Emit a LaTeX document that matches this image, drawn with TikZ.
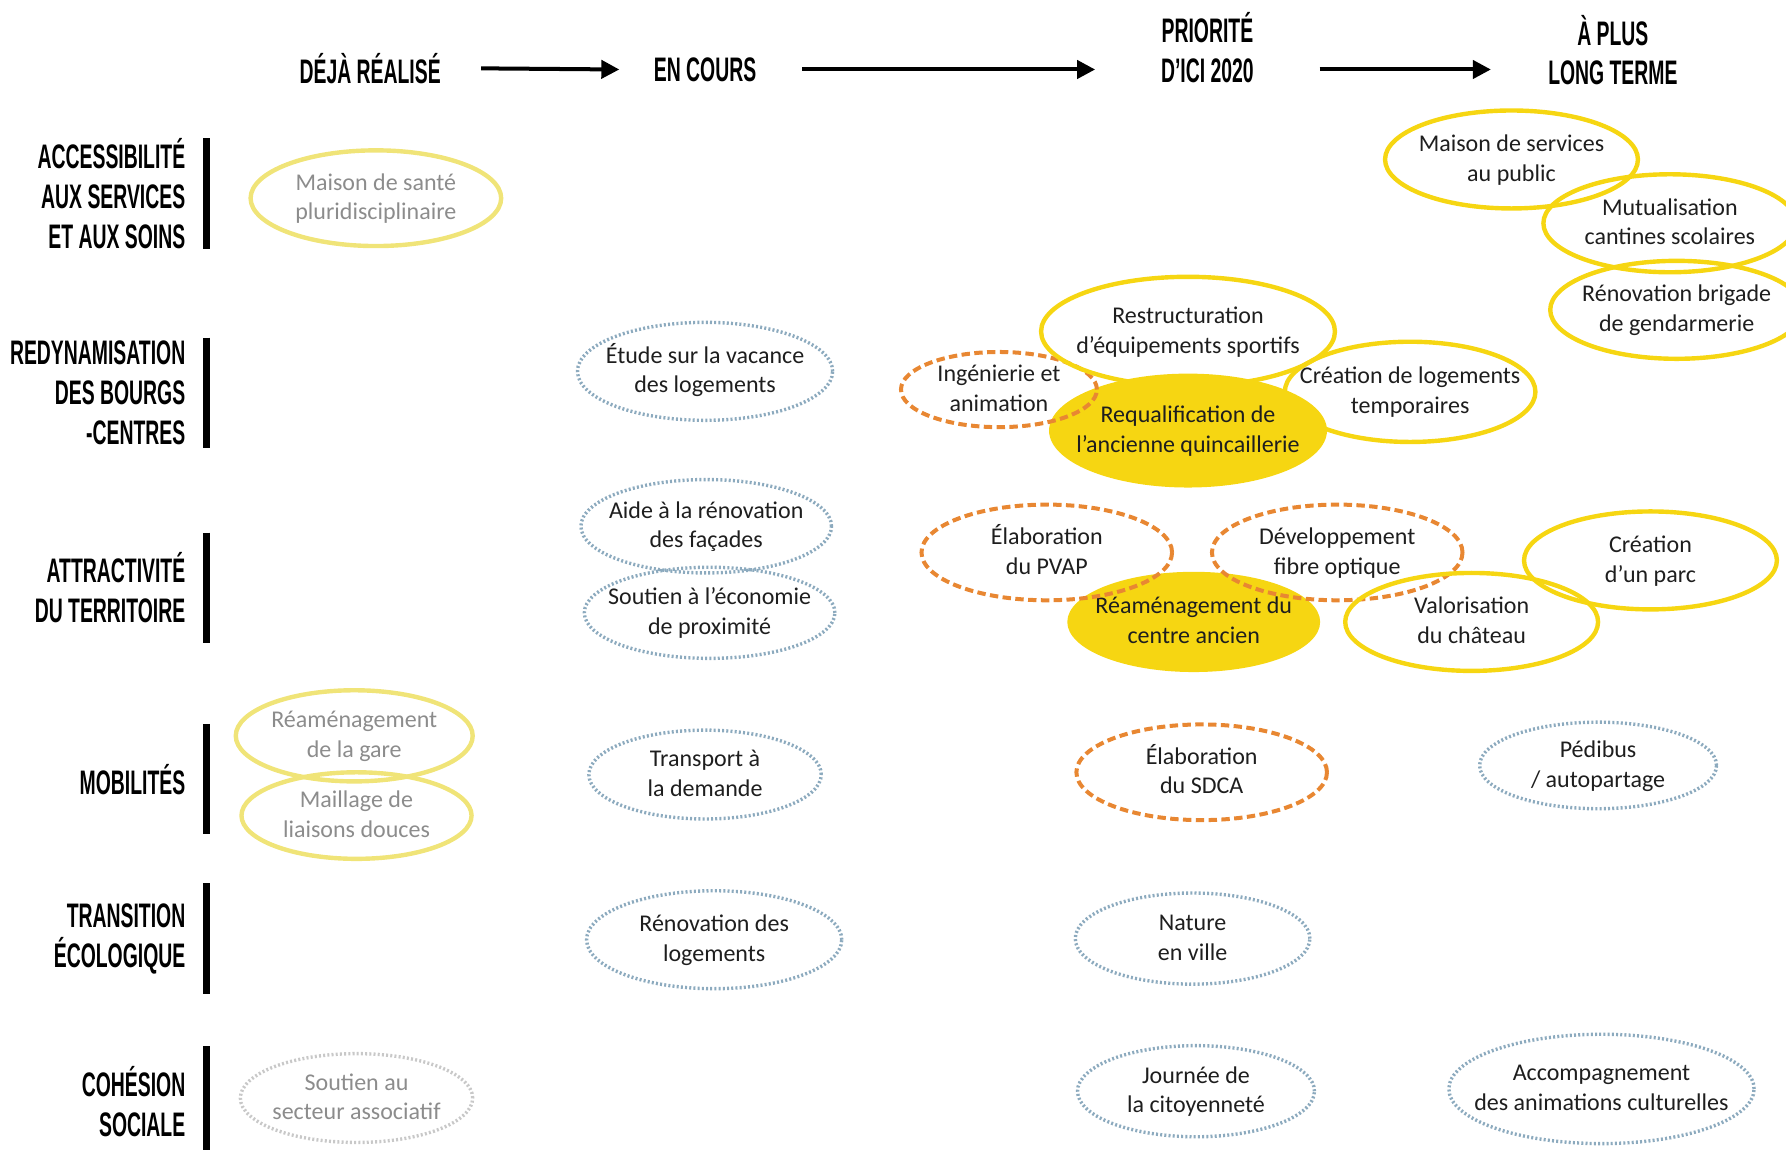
\documentclass[tikz,border=0pt]{standalone}
\usepackage{fontspec}
\setmainfont{Carlito}
\newfontfamily\headfont[FakeStretch=0.57]{Liberation Sans}
\usetikzlibrary{shapes.geometric,arrows.meta}

\definecolor{sun}{RGB}{246,214,18}
\definecolor{paleyellow}{RGB}{240,228,120}
\definecolor{studyorange}{RGB}{232,135,50}
\definecolor{dotblue}{RGB}{140,170,190}
\definecolor{dotgray}{RGB}{200,200,200}
\definecolor{donetext}{RGB}{140,140,140}
\definecolor{ink}{RGB}{30,30,30}

\newcommand{\inell}[1]{\smash{\makebox[0pt]{\raisebox{-0.6ex}{\begin{tabular}{@{}c@{}}#1\end{tabular}}}}}

\tikzset{
  head/.style={font=\headfont\bfseries\fontsize{17}{19.9}\selectfont, align=center, inner sep=0pt},
  rowlab/.style={head, anchor=east, align=right},
  arr/.style={line width=2pt, -{Triangle[length=9pt,width=9pt]}},
  bar/.style={line width=3.4pt},
  action/.style={ellipse, inner sep=0pt, text=ink, line width=2.2pt,
    font=\fontsize{12}{14.8}\selectfont},
  done/.style={action, draw=paleyellow, text=donetext},
  donegray/.style={action, draw=dotgray, text=donetext, line width=1.7pt, dash pattern=on 1pt off 1.1pt},
  ongoing/.style={action, draw=dotblue, line width=1.7pt, dash pattern=on 1pt off 1.1pt},
  study/.style={action, draw=studyorange, line width=2pt, dash pattern=on 4.2pt off 2.2pt},
  planned/.style={action, draw=sun},
  key/.style={action, fill=sun},
}

\begin{document}
\begin{tikzpicture}[x=0.02cm, y=-0.02cm]
  \useasboundingbox (0,0) rectangle (1568,1009);

  % column heads
  \node [head] (deja) at (325,60) {DÉJÀ RÉALISÉ};
  \node [head] (encours) at (619,61) {EN COURS};
  \node [head] (prio) at (1060,42) {PRIORITÉ\\D’ICI 2020};
  \node [head] (long) at (1416,44) {À PLUS\\LONG TERME};

  \draw [arr] ([xshift=0.7cm]deja.east) -- ([xshift=-0.6cm]encours.west);
  \draw [arr] ([xshift=0.8cm]encours.east) -- ([xshift=-1.15cm]prio.west |- encours.east);
  \draw [arr] ([xshift=1.15cm]prio.east |- encours.east) -- ([xshift=-1cm]long.west |- encours.east);

  % rows
  \foreach \row/\y/\txt in {acces/170/{ACCESSIBILITÉ\\AUX SERVICES\\ET AUX SOINS},
      bourgs/345/{REDYNAMISATION\\DES BOURGS\\-CENTRES},
      attract/516/{ATTRACTIVITÉ\\DU TERRITOIRE},
      mobil/684/{MOBILITÉS},
      transi/824/{TRANSITION\\ÉCOLOGIQUE},
      cohes/967/{COHÉSION\\SOCIALE}} {
    \node [rowlab] (\row) at (163,\y) {\txt};
    \draw [bar] ([xshift=0.36cm,yshift=0.97cm]\row.east) -- ([xshift=0.36cm,yshift=-0.97cm]\row.east);
  }

  % filled ones first, outlines go over them
  \foreach \name/\x/\y/\w/\h/\txt in {quinc/1043/378/244/100/{Requalification de\\l’ancienne quincaillerie},
      centre/1048/546/222/88/{Réaménagement du\\centre ancien}} {
    \node [key, minimum width=\w*0.02cm, minimum height=\h*0.02cm] (\name) at (\x,\y) {\inell{\txt}};
  }

  \foreach \name/\x/\y/\w/\h/\txt in {sante/330/174/220/84/{Maison de santé\\pluridisciplinaire},
      gare/311/646/208/80/{Réaménagement\\de la gare},
      maillage/313/716/202/76/{Maillage de\\liaisons douces}} {
    \node [done, minimum width=\w*0.02cm, minimum height=\h*0.02cm] (\name) at (\x,\y) {\inell{\txt}};
  }
  \node [donegray, minimum width=4.08cm, minimum height=1.56cm] (asso) at (313,964) {\inell{Soutien au\\secteur associatif}};

  \foreach \name/\x/\y/\w/\h/\txt in {vacance/619/326/224/86/{Étude sur la vacance\\des logements},
      facades/620/462/220/82/{Aide à la rénovation\\des façades},
      proxi/623/538/220/80/{Soutien à l’économie\\de proximité},
      tad/619/680/204/78/{Transport à\\la demande},
      renov/627/825/224/86/{Rénovation des\\logements},
      nature/1047/824/206/80/{Nature\\en ville},
      citoyen/1050/958/208/80/{Journée de\\la citoyenneté},
      pedibus/1403/672/208/76/{Pédibus\\/ autopartage},
      culture/1406/956/268/96/{Accompagnement\\des animations culturelles}} {
    \node [ongoing, minimum width=\w*0.02cm, minimum height=\h*0.02cm] (\name) at (\x,\y) {\inell{\txt}};
  }

  \foreach \name/\x/\y/\w/\h/\txt in {inge/877/342/172/66/{Ingénierie et\\animation},
      pvap/919/485/220/84/{Élaboration\\du PVAP},
      fibre/1174/485/220/84/{Développement\\fibre optique},
      sdca/1055/678/220/84/{Élaboration\\du SDCA}} {
    \node [study, minimum width=\w*0.02cm, minimum height=\h*0.02cm] (\name) at (\x,\y) {\inell{\txt}};
  }

  \foreach \name/\x/\y/\w/\h/\txt in {sport/1043/291/258/96/{Restructuration\\d’équipements sportifs},
      logtemp/1238/344/220/88/{Création de logements\\temporaires},
      chateau/1292/546/222/86/{Valorisation\\du château},
      parc/1449/492/222/86/{Création\\d’un parc},
      msap/1327/140/222/86/{Maison de services\\au public},
      cantines/1466/196/222/86/{Mutualisation\\cantines scolaires},
      gendarm/1472/272/222/86/{Rénovation brigade\\de gendarmerie}} {
    \node [planned, minimum width=\w*0.02cm, minimum height=\h*0.02cm] (\name) at (\x,\y) {\inell{\txt}};
  }
\end{tikzpicture}
\end{document}
